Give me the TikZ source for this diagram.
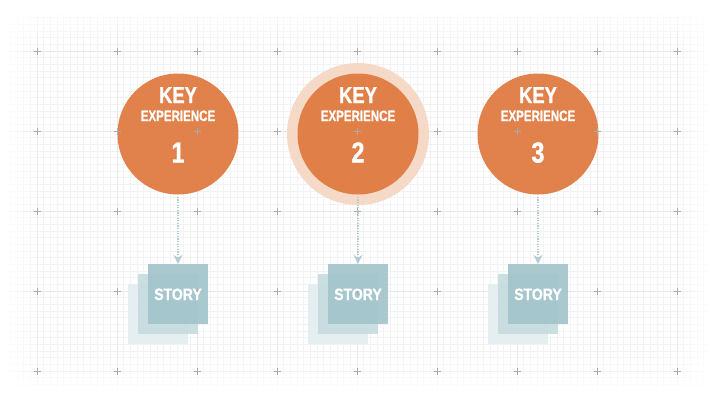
\documentclass[tikz,border=0pt]{standalone}
\usepackage{fontspec}
\setmainfont{Liberation Sans}
\newfontfamily\cond[FakeStretch=0.8,FakeBold=1.2]{Liberation Sans}
\newfontfamily\condx[FakeStretch=0.77,FakeBold=0.8]{Liberation Sans}
\newfontfamily\conds[FakeStretch=0.85,FakeBold=0.8]{Liberation Sans}
\usetikzlibrary{arrows.meta,fadings}

\definecolor{orng}{HTML}{E07A40}
\definecolor{halo}{HTML}{F6D6C3}
\definecolor{st1}{HTML}{A2C5CB}
\definecolor{st2}{HTML}{C7DCE0}
\definecolor{st3}{HTML}{E3EDEF}
\definecolor{gridc}{HTML}{F2F2F2}
\definecolor{gridm}{HTML}{E8E8E8}
\definecolor{crossc}{HTML}{ABABAB}
\definecolor{arrc}{HTML}{B3CDD3}

\tikzfading[name=fadeL, left color=transparent!0, right color=transparent!100]
\tikzfading[name=fadeR, left color=transparent!100, right color=transparent!0]
\tikzfading[name=fadeT, top color=transparent!0, bottom color=transparent!100]
\tikzfading[name=fadeB, top color=transparent!100, bottom color=transparent!0]

\tikzset{
  kcircle/.style={circle, fill=orng, fill opacity=0.94, minimum size=121pt, inner sep=0pt},
  keyt/.style={text=white, anchor=base, inner sep=0pt, font=\cond\bfseries\fontsize{23}{23}\selectfont},
  expt/.style={text=white, anchor=base, inner sep=0pt, font=\condx\bfseries\fontsize{15}{15}\selectfont},
  numt/.style={text=white, anchor=base, inner sep=0pt, font=\cond\bfseries\fontsize{29}{29}\selectfont},
  sbox/.style={minimum size=60pt, inner sep=0pt, fill opacity=0.92, text opacity=1},
  storyt/.style={text=white, anchor=base, inner sep=0pt, font=\conds\bfseries\fontsize{16.5}{16.5}\selectfont},
  conn/.style={arrc, line width=1.3pt, dash pattern=on 1.3pt off 1.3pt, -{Stealth[length=9pt,width=9pt,inset=3pt,sep=0pt]}, shorten <=2pt},
  crossmark/.style={crossc, line width=0.6pt},
}

\begin{document}
\begin{tikzpicture}[x=1pt,y=-1pt]
\fill[white] (0,0) rectangle (715,400);
\useasboundingbox (0,0) rectangle (715,400);

% fine grid
\foreach \i in {-5,...,101} \draw[gridc, line width=0.8pt] ({37+\i*6.6667},0) -- ({37+\i*6.6667},400);
\foreach \j in {-7,...,52} \draw[gridc, line width=0.8pt] (0,{51+\j*6.6667}) -- (715,{51+\j*6.6667});
\foreach \k in {0,...,8} \draw[gridm, line width=0.8pt] ({37+\k*80},0) -- ({37+\k*80},400);
\foreach \k in {0,...,4} \draw[gridm, line width=0.8pt] (0,{51+\k*80}) -- (715,{51+\k*80});

% edge fades
\fill[white, path fading=fadeL] (0,0) rectangle (45,400);
\fill[white, path fading=fadeR] (670,0) rectangle (715,400);
\fill[white, path fading=fadeT] (0,0) rectangle (715,45);
\fill[white, path fading=fadeB] (0,345) rectangle (715,400);
\fill[white] (0,0) rectangle (8,400);
\fill[white] (707,0) rectangle (715,400);
\fill[white] (0,0) rectangle (715,14);
\fill[white] (0,388) rectangle (715,400);

% halo
\fill[halo, fill opacity=0.9] (358,134) circle (71);

% key experience circles
\node[kcircle] (k1) at (178,134) {};
\node[kcircle] (k2) at (358,134) {};
\node[kcircle] (k3) at (538,134) {};

% story stacks
\node[sbox, fill=st3] (s1c) at (158,314) {};
\node[sbox, fill=st2] (s1b) at (168,304) {};
\node[sbox, fill=st1] (s1) at (178,294) {};
\node[sbox, fill=st3] (s2c) at (338,314) {};
\node[sbox, fill=st2] (s2b) at (348,304) {};
\node[sbox, fill=st1] (s2) at (358,294) {};
\node[sbox, fill=st3] (s3c) at (518,314) {};
\node[sbox, fill=st2] (s3b) at (528,304) {};
\node[sbox, fill=st1] (s3) at (538,294) {};

% crosses
\foreach \cx in {37,117,...,677} \foreach \cy in {51,131,...,371}
  \draw[crossmark] (\cx-3.5,\cy) -- (\cx+3.5,\cy) (\cx,\cy-3.5) -- (\cx,\cy+3.5);

% texts
\foreach \n/\cx in {1/178,2/358,3/538}{
  \node[keyt] (key\n) at (\cx,103) {KEY};
  \node[expt] (exp\n) at (\cx,121) {EXPERIENCE};
  \node[numt] (num\n) at (\cx,162.5) {\n};
  \node[storyt] (story\n) at (\cx,300) {STORY};
}

% connectors
\draw[conn] (k1) -- (s1);
\draw[conn] (k2) -- (s2);
\draw[conn] (k3) -- (s3);
\end{tikzpicture}
\end{document}
